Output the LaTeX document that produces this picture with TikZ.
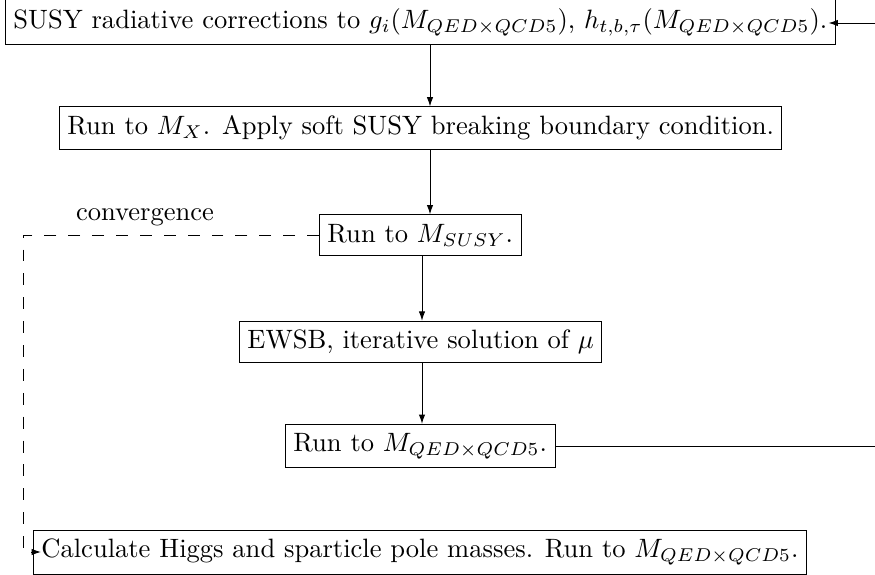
\documentclass[tikz,border=0pt]{standalone}
\usepackage{amsmath}
\usepackage{tikz}
\usetikzlibrary{arrows.meta}
\usetikzlibrary{positioning}

\begin{document}
\begin{tikzpicture}[x=0.3768pt,y=-0.3768pt,line width=0.35pt,
stepbox/.style={draw,rectangle,inner xsep=3pt,minimum height=15.2pt},
flow/.style={-{Latex[length=3.5pt,width=2.4pt]}},
backloop/.style={dash pattern=on 4.5pt off 4.5pt}]

\useasboundingbox (0,0) rectangle (875,575);

\node[stepbox,anchor=west] (susy) at (5,22) {SUSY radiative corrections to $g_i(M_{QED\times QCD5})$, $h_{t,b,\tau}(M_{QED\times QCD5})$.};
\node[stepbox,anchor=west] (runx) at (59,128) {Run to $M_X$. Apply soft SUSY breaking boundary condition.};
\node[stepbox,anchor=west] (runsusy) at (319,235) {Run to $M_{SUSY}$.};
\node[stepbox,anchor=west] (ewsb) at (239,342) {EWSB, iterative solution of $\mu$};
\node[stepbox,anchor=west] (runqed) at (285,446) {Run to $M_{QED\times QCD5}$.};
\node[stepbox,anchor=west] (higgs) at (33,552) {Calculate Higgs and sparticle pole masses. Run to $M_{QED\times QCD5}$.};

\coordinate (spine) at (430,0);
\coordinate (spine low) at (422,0);
\draw[flow] (susy.south -| spine) -- (runx.north -| spine);
\draw[flow] (runx.south -| spine) -- (runsusy.north -| spine);
\draw[flow] (runsusy.south -| spine low) -- (ewsb.north -| spine low);
\draw[flow] (ewsb.south -| spine low) -- (runqed.north -| spine low);

% loop back on the right
\coordinate (loop out) at (875,446);
\coordinate (loop in) at (875,23);
\draw (runqed.east) -- (loop out);
\draw[flow,shorten >=-2.7pt] (loop in) -- (susy.east |- loop in);

% convergence branch
\coordinate (bend top) at (23,235);
\coordinate (bend low) at (23,552);
\draw[backloop,flow,shorten >=-3pt] (runsusy.west) -- (bend top) -- (bend low) -- (higgs.west);
\coordinate (conv anchor) at (145,235);
\node[above=0pt of conv anchor] (convlabel) {convergence};
\end{tikzpicture}
\end{document}
